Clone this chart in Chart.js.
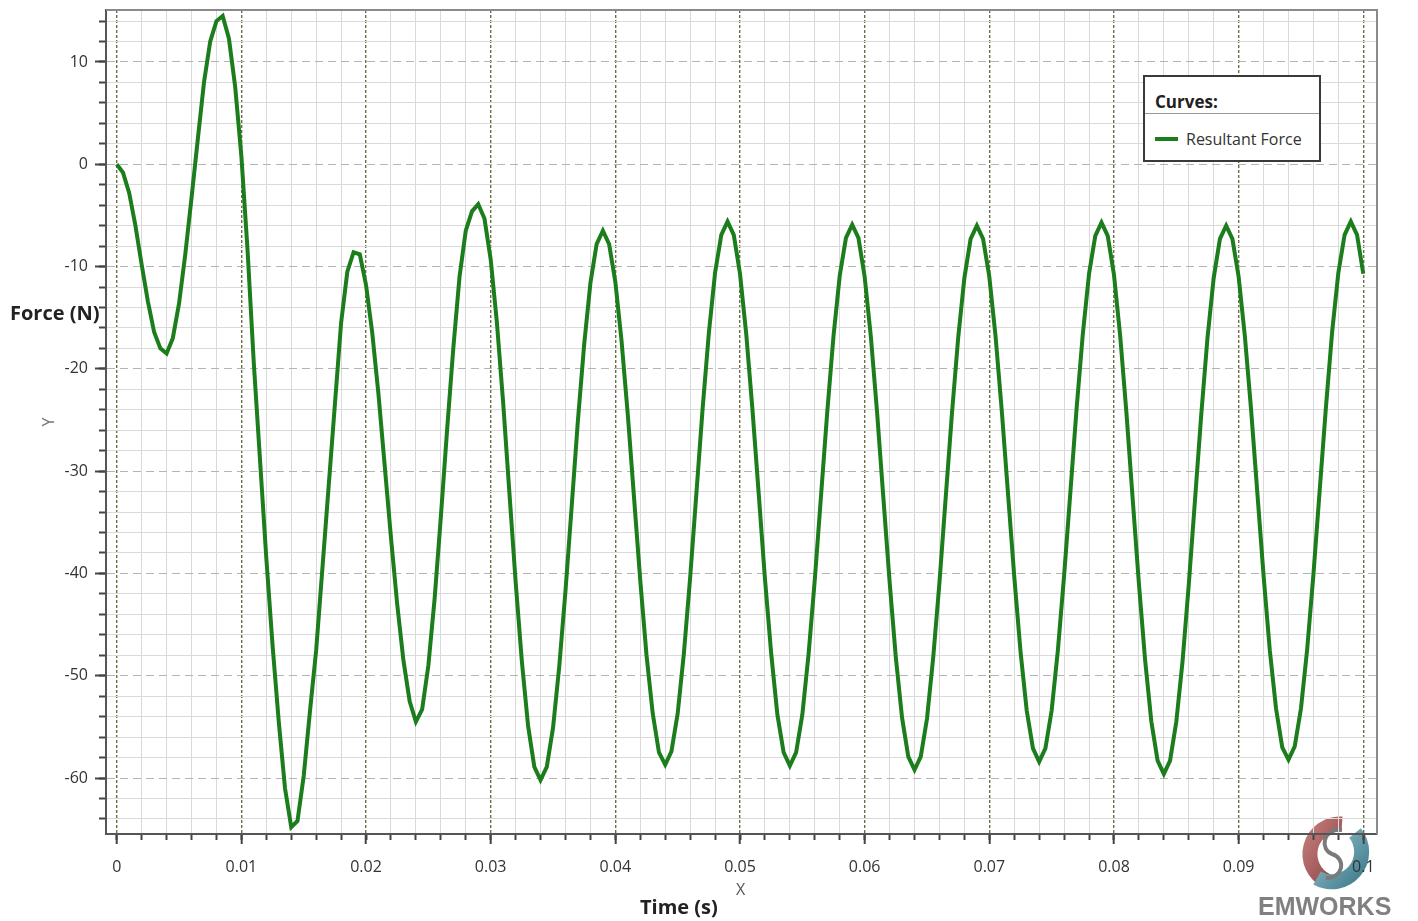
<!DOCTYPE html>
<html>
<head>
<meta charset="utf-8">
<title>Resultant Force</title>
<script src="https://cdn.jsdelivr.net/npm/chart.js@4.4.1/dist/chart.umd.min.js"></script>
<style>
    html, body { margin: 0; padding: 0; background: #fff; }
    #wrap { position: relative; width: 1418px; height: 921px; font-family: 'Open Sans', 'DejaVu Sans', sans-serif; color: #333; }
    #wrap canvas { position: absolute; left: 0; top: 0; z-index: 1; }
    .lbl { position: absolute; white-space: nowrap; z-index: 2; }
    #yTitle { left: 10px; top: 303px; font-size: 20px; font-weight: 700; line-height: 20px; color: #222; }
    #xTitle { left: 640px; top: 897px; font-size: 20px; font-weight: 700; line-height: 20px; color: #222; }
    #xName { left: 736px; top: 881px; font-size: 16px; line-height: 16px; color: #555; }
    #yName { left: 44px; top: 414px; font-size: 16px; line-height: 16px; color: #777; transform: rotate(-90deg); }
    #legend { position: absolute; z-index: 2; left: 1143px; top: 75px; width: 178px; height: 87px; box-sizing: border-box;
              border: 2px solid #3a3a3a; background: #fff; }
    #legend .lg-title { height: 37px; box-sizing: border-box; border-bottom: 1px solid #999; padding: 15px 0 0 10px;
                        font-size: 17px; font-weight: 700; line-height: 20px; color: #222; }
    #legend .lg-row { padding: 15px 0 0 10px; font-size: 16px; line-height: 20px; color: #333; }
    #legend .lg-swatch { display: inline-block; width: 23px; height: 4px; margin-right: 8px; vertical-align: middle; position: relative; top: -2px; }
    #logo { position: absolute; z-index: 0; left: 1290px; top: 810px; }
    #brand { left: 1258px; top: 894px; font-family: 'Liberation Sans', Arial, sans-serif; font-size: 25px; font-weight: 700;
             line-height: 25px; color: #808080; }
</style>
</head>
<body>
<div id="wrap">
    <svg id="logo" width="84" height="84" viewBox="0 0 84 84">
        <defs>
            <linearGradient id="gRed" x1="0" y1="0" x2="1" y2="1">
                <stop offset="0" stop-color="#c07a7a"/><stop offset="1" stop-color="#8c3f3f"/>
            </linearGradient>
            <linearGradient id="gTeal" x1="0" y1="0" x2="1" y2="1">
                <stop offset="0" stop-color="#9cc3cc"/><stop offset="1" stop-color="#3f7d8e"/>
            </linearGradient>
        </defs>
        <path d="M 52 14 A 30 30 0 0 0 37 71" stroke="url(#gRed)" stroke-width="15" fill="none"/>
        <path d="M 65 23 A 30 30 0 0 1 27 68" stroke="url(#gTeal)" stroke-width="15" fill="none"/>
        <path d="M 52 20 C 32 18, 30 40, 42 44 C 56 48, 54 68, 36 68" stroke="#7a7a7a" stroke-width="4" fill="none"/>
    </svg>
    <canvas id="chart" width="1418" height="921"></canvas>
    <div class="lbl" id="yTitle">Force (N)</div>
    <div class="lbl" id="yName">Y</div>
    <div class="lbl" id="xName">X</div>
    <div class="lbl" id="xTitle">Time (s)</div>
    <div id="legend">
        <div class="lg-title">Curves:</div>
        <div class="lg-row"><span class="lg-swatch" id="lgSwatch"></span><span id="lgText"></span></div>
    </div>
    <div class="lbl" id="brand">EMWORKS</div>
</div>
<script>
const SAMPLE_STEP = 0.0005;

const forceValues = [
    0, -0.8, -2.8, -6.0, -9.8, -13.4, -16.4, -18.0, -18.5, -17.0,
    -13.6, -8.8, -3.3, 2.4, 8.0, 12.0, 14.0, 14.5, 12.3, 7.6,
    0.8, -8.5, -19.5, -29.0, -38.5, -47.0, -54.5, -61.0, -64.8, -64.2,
    -59.8, -53.5, -47.5, -39.5, -31.5, -23.5, -15.5, -10.5, -8.6, -8.8,
    -11.8, -16.5, -22.5, -29.5, -36.5, -43.0, -48.5, -52.5, -54.5, -53.3,
    -49.0, -42.5, -34.5, -26.0, -18.0, -11.0, -6.5, -4.6, -3.9, -5.3,
    -9.3, -15.5, -23.3, -32.1, -40.8, -48.6, -54.9, -58.9, -60.2, -58.9,
    -55.1, -49.1, -41.7, -33.4, -25.0, -17.6, -11.6, -7.8, -6.5, -7.8,
    -11.5, -17.3, -24.5, -32.6, -40.7, -48.0, -53.7, -57.5, -58.7, -57.4,
    -53.7, -47.8, -40.4, -32.2, -23.9, -16.5, -10.6, -6.9, -5.6, -6.9,
    -10.7, -16.6, -24.0, -32.2, -40.5, -47.8, -53.8, -57.5, -58.8, -57.5,
    -53.8, -47.9, -40.6, -32.4, -24.2, -16.8, -10.9, -7.2, -5.9, -7.2,
    -11.0, -16.9, -24.3, -32.6, -40.8, -48.2, -54.1, -57.9, -59.2, -57.9,
    -54.2, -48.2, -40.9, -32.6, -24.4, -17.0, -11.1, -7.3, -6.0, -7.3,
    -11.0, -16.8, -24.1, -32.2, -40.3, -47.6, -53.4, -57.1, -58.4, -57.1,
    -53.4, -47.5, -40.2, -32.1, -23.9, -16.6, -10.7, -7.0, -5.7, -7.0,
    -10.8, -16.8, -24.3, -32.7, -41.0, -48.5, -54.5, -58.3, -59.6, -58.3,
    -54.5, -48.6, -41.1, -32.8, -24.5, -17.0, -11.1, -7.3, -6.0, -7.3,
    -11.0, -16.8, -24.0, -32.1, -40.2, -47.5, -53.2, -57.0, -58.2, -56.9,
    -53.2, -47.4, -40.1, -31.9, -23.8, -16.4, -10.6, -6.9, -5.6, -6.9,
    -10.7
];

const xTickValues = [0, 0.01, 0.02, 0.03, 0.04, 0.05, 0.06, 0.07, 0.08, 0.09, 0.1];
const yTickValues = [10, 0, -10, -20, -30, -40, -50, -60];
const seriesLabel = 'Resultant Force';
const lineColor = '#1b7d1b';

const X_MIN = -0.00086, X_MAX = 0.1011;
const Y_MIN = -65.47, Y_MAX = 15.08;

const points = forceValues.map((v, i) => ({ x: +(i * SAMPLE_STEP).toFixed(4), y: v }));

const isMultiple = (v, step) => Math.abs(v / step - Math.round(v / step)) < 1e-6;
const tickFont = { family: "'Open Sans', sans-serif", size: 16 };

// labels sit inside the box, so no extra room for them at the ends
const noEndPadding = (s) => {
    s.paddingTop = 0;
    s.paddingBottom = 0;
    s.paddingLeft = 0;
    s.paddingRight = 0;
};

// top + right frame of the plot box
const framePlugin = {
    id: 'frame',
    beforeDatasetsDraw(chart) {
        const { ctx, chartArea: a } = chart;
        ctx.save();
        ctx.strokeStyle = '#8a8a8a';
        ctx.lineWidth = 2;
        ctx.beginPath();
        ctx.moveTo(a.left, a.top);
        ctx.lineTo(a.right, a.top);
        ctx.lineTo(a.right, a.bottom);
        ctx.stroke();
        ctx.restore();
    }
};

document.getElementById('lgText').textContent = seriesLabel;
document.getElementById('lgSwatch').style.background = lineColor;

new Chart(document.getElementById('chart'), {
    type: 'line',
    data: {
        datasets: [{
            label: seriesLabel,
            data: points,
            borderColor: lineColor,
            backgroundColor: lineColor,
            borderWidth: 4,
            pointRadius: 0,
            tension: 0,
            fill: false
        }]
    },
    options: {
        responsive: false,
        animation: false,
        devicePixelRatio: 1,
        layout: { padding: { top: 10, right: 41, left: 0, bottom: 0 } },
        plugins: {
            legend: { display: false },
            tooltip: { enabled: false }
        },
        scales: {
            x: {
                type: 'linear',
                position: 'bottom',
                weight: 1,
                min: X_MIN,
                max: X_MAX,
                afterBuildTicks: (s) => { s.ticks = xTickValues.map(v => ({ value: v })); },
                afterFit: (s) => { s.height = 87; noEndPadding(s); },
                ticks: {
                    autoSkip: false,
                    maxRotation: 0,
                    padding: 14,
                    color: '#333',
                    font: tickFont,
                    callback: (v) => String(+v.toFixed(3))
                },
                grid: { color: '#6e6e48', lineWidth: 1.4, tickLength: 10, tickColor: '#444', tickWidth: 2 },
                border: { display: true, color: '#555', width: 2, dash: [3, 2] }
            },
            xMinor: {
                type: 'linear',
                position: 'bottom',
                weight: 0,
                min: X_MIN,
                max: X_MAX,
                afterFit: (s) => { s.height = 0; noEndPadding(s); },
                ticks: { display: false, stepSize: 0.002, includeBounds: false },
                grid: {
                    color: (c) => (c.tick && isMultiple(c.tick.value, 0.01)) ? 'rgba(0,0,0,0)' : '#dadada',
                    lineWidth: 1,
                    tickLength: 6,
                    tickColor: '#444',
                    tickWidth: 2
                },
                border: { display: false }
            },
            y: {
                type: 'linear',
                position: 'left',
                weight: 1,
                min: Y_MIN,
                max: Y_MAX,
                afterBuildTicks: (s) => { s.ticks = yTickValues.map(v => ({ value: v })); },
                afterFit: (s) => { s.width = 106; noEndPadding(s); },
                ticks: {
                    autoSkip: false,
                    padding: 7,
                    color: '#333',
                    font: tickFont,
                    callback: (v) => String(v)
                },
                grid: { color: '#b4b4b4', lineWidth: 1, tickLength: 11, tickColor: '#444', tickWidth: 2 },
                border: { display: true, color: '#555', width: 2, dash: [8, 5] }
            },
            yMinor: {
                type: 'linear',
                position: 'left',
                weight: 0,
                min: Y_MIN,
                max: Y_MAX,
                afterFit: (s) => { s.width = 0; noEndPadding(s); },
                ticks: { display: false, stepSize: 2, includeBounds: false },
                grid: {
                    color: (c) => (c.tick && isMultiple(c.tick.value, 10)) ? 'rgba(0,0,0,0)' : '#dadada',
                    lineWidth: 1,
                    tickLength: 7,
                    tickColor: '#444',
                    tickWidth: 2
                },
                border: { display: false }
            }
        }
    },
    plugins: [framePlugin]
});
</script>
</body>
</html>
